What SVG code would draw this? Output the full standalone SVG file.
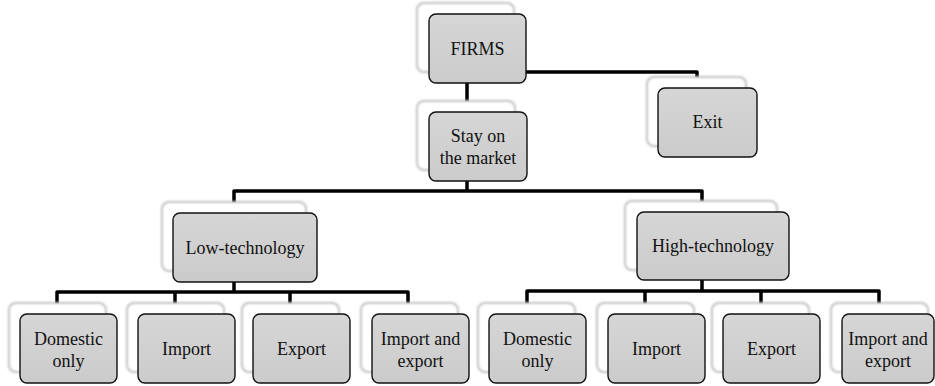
<svg xmlns="http://www.w3.org/2000/svg" width="935" height="386" viewBox="0 0 935 386" style="font-family:'Liberation Serif',serif">
<style>
  .back { fill: #ffffff; stroke: #bdbdbd; stroke-width: 2; }
  .front { fill: url(#g); stroke: #111111; stroke-width: 1.4; }
  .t { font-size: 18px; fill: #111111; text-anchor: middle; }
  .conn { fill: none; stroke: #000000; stroke-width: 3.5; stroke-linejoin: round; }
</style>
<defs>
  <linearGradient id="g" x1="0" y1="0" x2="0" y2="1">
    <stop offset="0" stop-color="#d6d6d6"/>
    <stop offset="1" stop-color="#cbcbcb"/>
  </linearGradient>
  <filter id="soft" x="-10%" y="-10%" width="120%" height="120%">
    <feGaussianBlur stdDeviation="0.9"/>
  </filter>
</defs>
<rect width="935" height="386" fill="#ffffff"/>
<g id="connectors">
  <path class="conn" d="M467 83 V102"/>
  <path class="conn" d="M526 72 H697 V78"/>
  <path class="conn" d="M467 181 V191"/>
  <path class="conn" d="M234 203 V191 H702 V202"/>
  <path class="conn" d="M234 282 V292"/>
  <path class="conn" d="M57 304 V292 H408 V304"/>
  <path class="conn" d="M175 292 V304"/>
  <path class="conn" d="M290 292 V304"/>
  <path class="conn" d="M702 280 V291"/>
  <path class="conn" d="M527 304 V291 H879 V304"/>
  <path class="conn" d="M645 291 V304"/>
  <path class="conn" d="M761 291 V304"/>
</g>
<g id="firms">
  <rect class="back" filter="url(#soft)" x="417" y="3" width="97" height="69" rx="7"/>
  <rect class="front" x="429" y="14" width="97" height="69" rx="7"/>
  <text class="t" style="font-family:'Liberation Serif',serif" x="477.5" y="55">FIRMS</text>
</g>
<g id="stay">
  <rect class="back" filter="url(#soft)" x="417" y="101" width="98" height="69" rx="7"/>
  <rect class="front" x="429" y="112" width="98" height="69" rx="7"/>
  <text class="t" style="font-family:'Liberation Serif',serif" x="478" y="142">Stay on</text>
  <text class="t" style="font-family:'Liberation Serif',serif" x="478" y="164">the market</text>
</g>
<g id="exit">
  <rect class="back" filter="url(#soft)" x="647" y="77" width="99" height="69" rx="7"/>
  <rect class="front" x="658" y="88" width="99" height="69" rx="7"/>
  <text class="t" style="font-family:'Liberation Serif',serif" x="707.5" y="128">Exit</text>
</g>
<g id="low">
  <rect class="back" filter="url(#soft)" x="162" y="202" width="144" height="69" rx="7"/>
  <rect class="front" x="173" y="213" width="144" height="69" rx="7"/>
  <text class="t" style="font-family:'Liberation Serif',serif" x="245" y="254">Low-technology</text>
</g>
<g id="high">
  <rect class="back" filter="url(#soft)" x="625" y="201" width="152" height="69" rx="7"/>
  <rect class="front" x="637" y="212" width="152" height="68" rx="7"/>
  <text class="t" style="font-family:'Liberation Serif',serif" x="713" y="252">High-technology</text>
</g>
<g id="low-domestic">
  <rect class="back" filter="url(#soft)" x="9" y="303" width="97" height="69" rx="7"/>
  <rect class="front" x="20" y="314" width="97" height="69" rx="7"/>
  <text class="t" style="font-family:'Liberation Serif',serif" x="68.5" y="345">Domestic</text>
  <text class="t" style="font-family:'Liberation Serif',serif" x="68.5" y="367">only</text>
</g>
<g id="low-import">
  <rect class="back" filter="url(#soft)" x="127" y="303" width="97" height="69" rx="7"/>
  <rect class="front" x="138" y="314" width="97" height="69" rx="7"/>
  <text class="t" style="font-family:'Liberation Serif',serif" x="186.5" y="355">Import</text>
</g>
<g id="low-export">
  <rect class="back" filter="url(#soft)" x="242" y="303" width="97" height="69" rx="7"/>
  <rect class="front" x="253" y="314" width="97" height="69" rx="7"/>
  <text class="t" style="font-family:'Liberation Serif',serif" x="301.5" y="355">Export</text>
</g>
<g id="low-importexport">
  <rect class="back" filter="url(#soft)" x="361" y="303" width="97" height="69" rx="7"/>
  <rect class="front" x="372" y="314" width="97" height="69" rx="7"/>
  <text class="t" style="font-family:'Liberation Serif',serif" x="420.5" y="345">Import and</text>
  <text class="t" style="font-family:'Liberation Serif',serif" x="420.5" y="367">export</text>
</g>
<g id="high-domestic">
  <rect class="back" filter="url(#soft)" x="478" y="303" width="97" height="69" rx="7"/>
  <rect class="front" x="489" y="314" width="97" height="69" rx="7"/>
  <text class="t" style="font-family:'Liberation Serif',serif" x="537.5" y="345">Domestic</text>
  <text class="t" style="font-family:'Liberation Serif',serif" x="537.5" y="367">only</text>
</g>
<g id="high-import">
  <rect class="back" filter="url(#soft)" x="597" y="303" width="97" height="69" rx="7"/>
  <rect class="front" x="608" y="314" width="97" height="69" rx="7"/>
  <text class="t" style="font-family:'Liberation Serif',serif" x="656.5" y="355">Import</text>
</g>
<g id="high-export">
  <rect class="back" filter="url(#soft)" x="712" y="303" width="97" height="69" rx="7"/>
  <rect class="front" x="723" y="314" width="97" height="69" rx="7"/>
  <text class="t" style="font-family:'Liberation Serif',serif" x="771.5" y="355">Export</text>
</g>
<g id="high-importexport">
  <rect class="back" filter="url(#soft)" x="831" y="303" width="97" height="69" rx="7"/>
  <rect class="front" x="842" y="314" width="92" height="69" rx="7"/>
  <text class="t" style="font-family:'Liberation Serif',serif" x="888" y="345">Import and</text>
  <text class="t" style="font-family:'Liberation Serif',serif" x="888" y="367">export</text>
</g>
</svg>
